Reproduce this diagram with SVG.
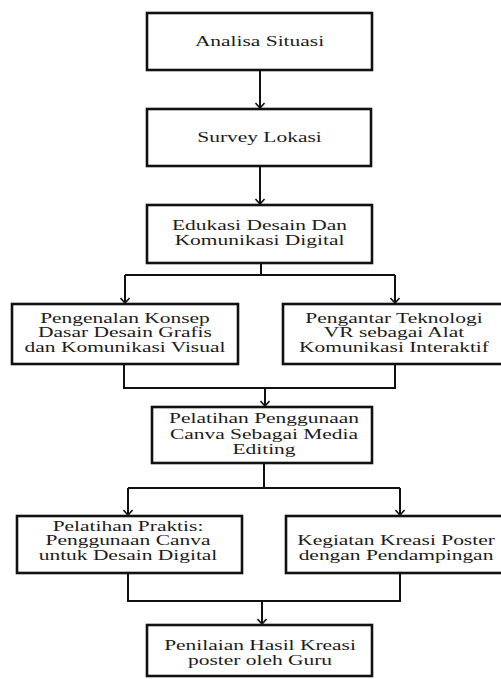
<svg xmlns="http://www.w3.org/2000/svg" width="501" height="679" viewBox="0 0 501 679">
<defs>
<style>
.box{fill:#fff;stroke:#111;stroke-width:2.6}
.ln{fill:none;stroke:#111;stroke-width:2}
.t{font-family:"Liberation Serif","Times New Roman",serif;font-size:14.5px;fill:#1c1c1c;text-anchor:middle}
</style>
<marker id="arr" viewBox="0 0 10 10" refX="10" refY="5" markerWidth="10" markerHeight="10" markerUnits="userSpaceOnUse" orient="auto">
<path d="M5,0.5 L10,5 L5,9.5" fill="none" stroke="#111" stroke-width="1.6"/>
</marker>
</defs>
<rect width="501" height="679" fill="#fff"/>
<g id="connectors">
<path class="ln" d="M260,70 V108" marker-end="url(#arr)"/>
<path class="ln" d="M260,166 V204" marker-end="url(#arr)"/>
<path class="ln" d="M261,263 V275"/>
<path class="ln" d="M125,275 H395"/>
<path class="ln" d="M125,275 V303" marker-end="url(#arr)"/>
<path class="ln" d="M395,275 V303" marker-end="url(#arr)"/>
<path class="ln" d="M124,364 V388 H395 V364"/>
<path class="ln" d="M265,388 V406" marker-end="url(#arr)"/>
<path class="ln" d="M264,463 V488"/>
<path class="ln" d="M128,488 H400"/>
<path class="ln" d="M128,488 V515" marker-end="url(#arr)"/>
<path class="ln" d="M400,488 V515" marker-end="url(#arr)"/>
<path class="ln" d="M128,573 V601 H400 V573"/>
<path class="ln" d="M262,601 V624" marker-end="url(#arr)"/>
</g>
<g id="n1">
<rect class="box" x="147" y="13" width="225" height="57"/>
<text class="t" transform="translate(259.5,46) scale(1.48,1)">Analisa Situasi</text>
</g>
<g id="n2">
<rect class="box" x="147" y="109" width="224" height="57"/>
<text class="t" transform="translate(259.5,142) scale(1.48,1)">Survey Lokasi</text>
</g>
<g id="n3">
<rect class="box" x="147" y="205" width="225" height="58"/>
<text class="t" transform="translate(259.5,230) scale(1.48,1)">Edukasi Desain Dan</text>
<text class="t" transform="translate(259.5,245) scale(1.48,1)">Komunikasi Digital</text>
</g>
<g id="n4">
<rect class="box" x="12" y="304" width="226" height="60"/>
<text class="t" transform="translate(125,322.5) scale(1.48,1)">Pengenalan Konsep</text>
<text class="t" transform="translate(125,337) scale(1.48,1)">Dasar Desain Grafis</text>
<text class="t" transform="translate(125,351.5) scale(1.48,1)">dan Komunikasi Visual</text>
</g>
<g id="n5">
<rect class="box" x="283" y="304" width="226" height="60"/>
<text class="t" transform="translate(394,322.5) scale(1.48,1)">Pengantar Teknologi</text>
<text class="t" transform="translate(394,337) scale(1.48,1)">VR sebagai Alat</text>
<text class="t" transform="translate(394,351.5) scale(1.48,1)">Komunikasi Interaktif</text>
</g>
<g id="n6">
<rect class="box" x="152" y="407" width="220" height="56"/>
<text class="t" transform="translate(264,423) scale(1.48,1)">Pelatihan Penggunaan</text>
<text class="t" transform="translate(264,438.5) scale(1.48,1)">Canva Sebagai Media</text>
<text class="t" transform="translate(264,454) scale(1.48,1)">Editing</text>
</g>
<g id="n7">
<rect class="box" x="17" y="516" width="225" height="57"/>
<text class="t" transform="translate(128,530.5) scale(1.48,1)">Pelatihan Praktis:</text>
<text class="t" transform="translate(128,545) scale(1.48,1)">Penggunaan Canva</text>
<text class="t" transform="translate(128,559.5) scale(1.48,1)">untuk Desain Digital</text>
</g>
<g id="n8">
<rect class="box" x="286" y="516" width="228" height="57"/>
<text class="t" transform="translate(396,545) scale(1.48,1)">Kegiatan Kreasi Poster</text>
<text class="t" transform="translate(396,559.5) scale(1.48,1)">dengan Pendampingan</text>
</g>
<g id="n9">
<rect class="box" x="147" y="625" width="225" height="51"/>
<text class="t" transform="translate(260,650) scale(1.48,1)">Penilaian Hasil Kreasi</text>
<text class="t" transform="translate(260,665) scale(1.48,1)">poster oleh Guru</text>
</g>
</svg>
